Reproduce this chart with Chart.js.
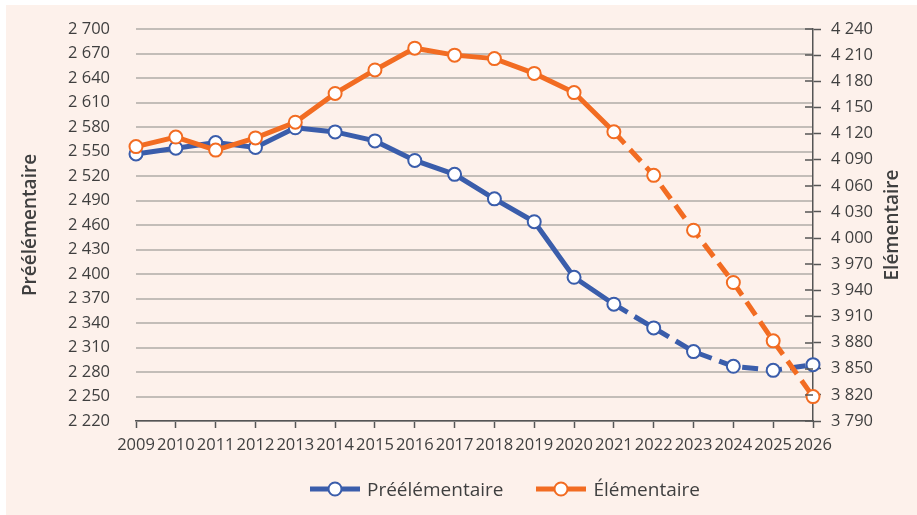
<!DOCTYPE html>
<html lang="fr">
<head>
<meta charset="utf-8">
<title>Préélémentaire / Élémentaire</title>
<script src="https://cdn.jsdelivr.net/npm/chart.js@4/dist/chart.umd.min.js"></script>
<style>
	html, body { margin: 0; padding: 0; background: #ffffff; }
	#wrap { position: absolute; left: 6px; top: 5px; width: 911px; height: 510px; background: #fdf1eb; }
	#legend { position: absolute; left: 304px; top: 472px; height: 24px; display: flex; align-items: center; font-family: "Open Sans", sans-serif; font-size: 19px; color: #3f3f3f; white-space: nowrap; }
	#legend .item { display: flex; align-items: center; }
	#legend .item + .item { margin-left: 33px; }
	#legend svg { margin-right: 7px; }
</style>
</head>
<body>
<div id="wrap">
	<canvas id="effectifs"></canvas>
	<div id="legend"></div>
</div>
<script>
"use strict";

// Data
var years = ["2009", "2010", "2011", "2012", "2013", "2014", "2015", "2016", "2017", "2018", "2019", "2020", "2021", "2022", "2023", "2024", "2025", "2026"];
var preelementaire = [2547, 2554, 2561, 2555, 2579, 2574, 2563, 2539, 2522, 2492, 2464, 2396, 2363, 2334, 2305, 2287, 2282, 2289];
var elementaire = [4105, 4116, 4101, 4115, 4133, 4166, 4193, 4218, 4210, 4206, 4189, 4167, 4122, 4072, 4009, 3949, 3882, 3818];
var leftTicks = { min: 2220, max: 2700, step: 30 };
var rightTicks = { min: 3790, max: 4240, step: 30 };
var firstProjected = 12; // 2021, dashed afterwards
var rightTitle = "Elémentaire";

var BLUE = "#3a5dab";
var ORANGE = "#f26c22";
var TEXT = "#3f3f3f";
var AXIS = "#555555";
var FONT = "'Open Sans', sans-serif";

function frNumber(v) {
	return String(v).replace(/\B(?=(\d{3})+(?!\d))/g, " ");
}

function dashed(ctx) {
	return ctx.p0DataIndex >= firstProjected ? [16, 8] : undefined;
}

// inner half of the right axis ticks + right title read bottom-up
var rightAxisExtras = {
	id: "rightAxisExtras",
	afterDraw: function (chart) {
		var s = chart.scales.y1;
		var ctx = chart.ctx;
		ctx.save();
		ctx.strokeStyle = AXIS;
		ctx.lineWidth = 1.5;
		ctx.beginPath();
		s.ticks.forEach(function (t, i) {
			var y = Math.round(s.getPixelForTick(i));
			ctx.moveTo(s.left - 8, y);
			ctx.lineTo(s.left, y);
		});
		ctx.stroke();
		ctx.translate(s.right - 24, (chart.chartArea.top + chart.chartArea.bottom) / 2);
		ctx.rotate(-Math.PI / 2);
		ctx.fillStyle = TEXT;
		ctx.font = "600 19px " + FONT;
		ctx.textAlign = "center";
		ctx.textBaseline = "middle";
		ctx.fillText(rightTitle, 0, 0);
		ctx.restore();
	},
};

// Legend: line with open marker, then the series name
function buildLegend(chart) {
	var box = document.getElementById("legend");
	chart.data.datasets.forEach(function (ds) {
		var item = document.createElement("span");
		item.className = "item";
		item.innerHTML =
			'<svg width="50" height="18" viewBox="0 0 50 18">' +
			'<line x1="0" y1="9" x2="50" y2="9" stroke="' + ds.borderColor + '" stroke-width="5"/>' +
			'<circle cx="25" cy="9" r="6.5" fill="#fff" stroke="' + ds.borderColor + '" stroke-width="2"/>' +
			"</svg>";
		var txt = document.createElement("span");
		txt.textContent = ds.label;
		item.appendChild(txt);
		box.appendChild(item);
	});
}

function initEffectifs() {
	var el = document.getElementById("effectifs");
	var chart = new Chart(el, {
		type: "line",
		data: {
			labels: years,
			datasets: [
				{
					label: "Préélémentaire",
					data: preelementaire,
					yAxisID: "y",
					order: 2,
					borderColor: BLUE,
					borderWidth: 5,
					pointRadius: 6.5,
					pointBorderWidth: 2,
					pointBackgroundColor: "#ffffff",
					pointBorderColor: BLUE,
					segment: { borderDash: dashed },
				},
				{
					label: "Élémentaire",
					data: elementaire,
					yAxisID: "y1",
					order: 1,
					borderColor: ORANGE,
					borderWidth: 5,
					pointRadius: 6.5,
					pointBorderWidth: 2,
					pointBackgroundColor: "#ffffff",
					pointBorderColor: ORANGE,
					segment: { borderDash: dashed },
				},
			],
		},
		options: {
			responsive: true,
			maintainAspectRatio: false,
			animation: false,
			layout: {
				padding: { top: 24, right: 0, left: 0, bottom: 50 },
			},
			scales: {
				x: {
					offset: false,
					grid: {
						drawOnChartArea: false,
						drawTicks: true,
						tickLength: 7,
						tickColor: AXIS,
						tickWidth: 1.5,
					},
					border: {
						display: true,
						color: AXIS,
						width: 1.5,
					},
					ticks: {
						autoSkip: false,
						maxRotation: 0,
						padding: 7,
						color: TEXT,
						font: { family: FONT, size: 16.5 },
					},
					afterFit: function (s) {
						s.height = 44;
					},
				},
				y: {
					position: "left",
					min: leftTicks.min,
					max: leftTicks.max,
					grid: {
						color: "#c3bdb8",
						lineWidth: 2,
						drawTicks: true,
						tickLength: 24,
						tickColor: "transparent",
					},
					border: {
						display: false,
					},
					ticks: {
						stepSize: leftTicks.step,
						padding: 2,
						color: TEXT,
						font: { family: FONT, size: 16.5 },
						callback: frNumber,
					},
					title: {
						display: true,
						text: "Préélémentaire",
						color: TEXT,
						padding: { top: 13, bottom: 0 },
						font: { family: FONT, size: 19, weight: "600" },
					},
					afterFit: function (s) {
						s.width = 130;
					},
				},
				y1: {
					position: "right",
					min: rightTicks.min,
					max: rightTicks.max,
					grid: {
						drawOnChartArea: false,
						drawTicks: true,
						tickLength: 8,
						tickColor: AXIS,
						tickWidth: 1.5,
					},
					border: {
						display: true,
						color: AXIS,
						width: 1.5,
					},
					ticks: {
						stepSize: rightTicks.step,
						padding: 10,
						color: TEXT,
						font: { family: FONT, size: 16.5 },
						callback: frNumber,
					},
					afterFit: function (s) {
						s.width = 104;
					},
				},
			},
			plugins: {
				tooltip: { enabled: false },
				legend: { display: false },
			},
		},
		plugins: [rightAxisExtras],
	});
	buildLegend(chart);
}

(function () {
	initEffectifs();
})();
</script>
</body>
</html>
